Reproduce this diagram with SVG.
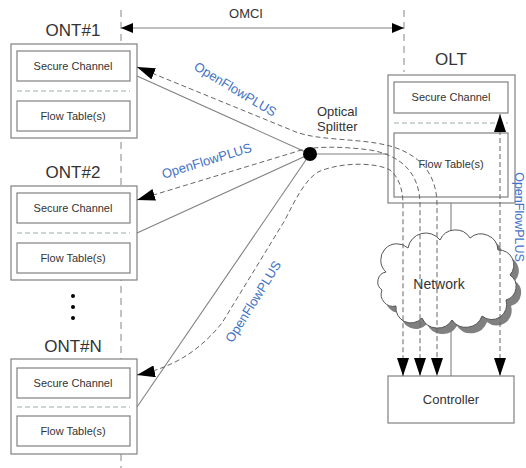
<svg xmlns="http://www.w3.org/2000/svg" width="526" height="468" viewBox="0 0 526 468">
<style>
text{font-family:"Liberation Sans",Arial,sans-serif;fill:#333}
.box{fill:#fff;stroke:#808080;stroke-width:1.2}
.sep{stroke:#9aa9a9;stroke-width:1;stroke-dasharray:5,3;fill:none}
.vd{stroke:#9a9a9a;stroke-width:1.2;stroke-dasharray:7,5;fill:none}
.sol{stroke:#808080;stroke-width:1.1;fill:none}
.dsh{stroke:#666;stroke-width:1;stroke-dasharray:5,3;fill:none}
.lbl{font-size:17px;text-anchor:middle}
.in{font-size:11px;text-anchor:middle}
.of{font-size:13px;fill:#4472c4;text-anchor:middle}
</style>
<defs>
<marker id="ah" viewBox="0 0 18 12" refX="18" refY="6" markerWidth="18" markerHeight="12" markerUnits="userSpaceOnUse" orient="auto-start-reverse"><path d="M0,0 L18,6 L0,12 z" fill="#000"/></marker>
<marker id="as" viewBox="0 0 12 10" refX="12" refY="5" markerWidth="12" markerHeight="10" markerUnits="userSpaceOnUse" orient="auto-start-reverse"><path d="M0,0 L12,5 L0,10 z" fill="#000"/></marker>
<path id="cloud" d="M386,272 A16,16 0 0 1 408,248 A18,18 0 0 1 440,240 A17,17 0 0 1 470,238 A17,17 0 0 1 498,250 A15,15 0 0 1 510,275 A14,14 0 0 1 506,300 A15,15 0 0 1 482,316 A17,17 0 0 1 452,320 A17,17 0 0 1 422,318 A15,15 0 0 1 396,306 A12,12 0 0 1 382,290 A10,10 0 0 1 386,272 Z"/>
</defs>
<rect width="526" height="468" fill="#fff"/>

<g id="guides">
<line class="vd" x1="121" y1="10" x2="121" y2="468"/>
<line class="vd" x1="404" y1="10" x2="404" y2="72"/>
</g>

<g id="network">
<use href="#cloud" transform="translate(5,6)" fill="#808080"/>
<line class="sol" x1="451" y1="203" x2="451" y2="376"/>
<use href="#cloud" fill="#fff" stroke="#555" stroke-width="1"/>
<text x="439" y="289" font-size="14" text-anchor="middle">Network</text>
</g>

<g id="ont1">
<text class="lbl" x="73" y="36">ONT#1</text>
<rect class="box" x="11" y="44" width="126" height="94"/>
<rect class="box" x="17" y="51" width="113" height="30"/>
<line class="sep" x1="17" y1="91" x2="130" y2="91"/>
<rect class="box" x="17" y="101" width="113" height="30"/>
<text class="in" x="73" y="70">Secure Channel</text>
<text class="in" x="73" y="120">Flow Table(s)</text>
</g>

<g id="ont2">
<text class="lbl" x="73" y="178">ONT#2</text>
<rect class="box" x="11" y="186" width="126" height="94"/>
<rect class="box" x="17" y="193" width="113" height="30"/>
<line class="sep" x1="17" y1="233" x2="130" y2="233"/>
<rect class="box" x="17" y="243" width="113" height="30"/>
<text class="in" x="73" y="212">Secure Channel</text>
<text class="in" x="73" y="262">Flow Table(s)</text>
</g>

<g id="dots">
<circle cx="73" cy="296" r="2" fill="#000"/>
<circle cx="73" cy="307" r="2" fill="#000"/>
<circle cx="73" cy="318" r="2" fill="#000"/>
</g>

<g id="ontN">
<text class="lbl" x="73" y="352">ONT#N</text>
<rect class="box" x="11" y="359" width="126" height="95"/>
<rect class="box" x="17" y="368" width="113" height="30"/>
<line class="sep" x1="17" y1="407" x2="130" y2="407"/>
<rect class="box" x="17" y="416" width="113" height="30"/>
<text class="in" x="73" y="387">Secure Channel</text>
<text class="in" x="73" y="435">Flow Table(s)</text>
</g>

<g id="olt">
<text class="lbl" x="451" y="65">OLT</text>
<rect class="box" x="388" y="75" width="127" height="128"/>
<rect class="box" x="394" y="82" width="114" height="31"/>
<line class="sep" x1="394" y1="123" x2="508" y2="123"/>
<rect class="box" x="394" y="133" width="114" height="64"/>
<text class="in" x="451" y="101">Secure Channel</text>
<text class="in" x="451" y="168">Flow Table(s)</text>
</g>

<g id="controller">
<rect class="box" x="388" y="376" width="126" height="47"/>
<text x="451" y="404" font-size="13" text-anchor="middle">Controller</text>
</g>

<g id="connectors">
<line class="sol" x1="121" y1="28" x2="404" y2="28" marker-start="url(#as)" marker-end="url(#as)"/>
<line class="sol" x1="137" y1="76" x2="310" y2="154"/>
<line class="sol" x1="137" y1="233" x2="310" y2="154"/>
<line class="sol" x1="137" y1="407" x2="310" y2="154"/>
<line class="sol" x1="310" y1="154" x2="388" y2="154"/>
<path class="dsh" d="M137,67 L296,132 C320,141 360,138 390,146 C418,154 437,172 437,205 L437,376" marker-start="url(#ah)" marker-end="url(#ah)"/>
<path class="dsh" d="M137,200 L295,152 C310,146 340,146 370,150 C400,155 420,172 420,205 L420,376" marker-start="url(#ah)" marker-end="url(#ah)"/>
<path class="dsh" d="M137,375 C175,367 200,350 222,323 L285,220 C295,200 305,180 318,172 C340,162 375,162 390,170 C400,178 403,192 403,205 L403,376" marker-start="url(#ah)" marker-end="url(#ah)"/>
<path class="dsh" d="M500,114 L500,376" marker-start="url(#ah)" marker-end="url(#ah)"/>
</g>

<g id="splitter">
<circle cx="310" cy="154" r="7" fill="#000"/>
<text x="317" y="116" font-size="13">Optical</text>
<text x="317" y="131" font-size="13">Splitter</text>
</g>

<g id="labels">
<text x="246" y="18" font-size="13" text-anchor="middle">OMCI</text>
<text class="of" transform="translate(233,93) rotate(31)">OpenFlowPLUS</text>
<text class="of" transform="translate(208,165) rotate(-17)">OpenFlowPLUS</text>
<text class="of" transform="translate(257,304) rotate(-58)">OpenFlowPLUS</text>
<text class="of" transform="translate(515,217) rotate(90)" style="font-size:12.5px">OpenFlowPLUS</text>
</g>
</svg>
